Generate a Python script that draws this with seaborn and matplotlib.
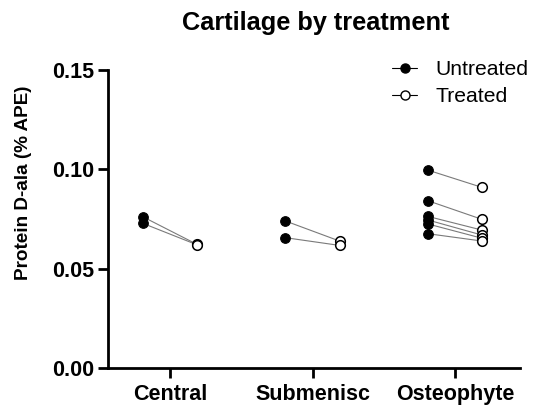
import numpy as np
import pandas as pd
import matplotlib
matplotlib.use("Agg")
import matplotlib.pyplot as plt
from matplotlib.lines import Line2D
import seaborn as sns

sns.set_theme(style="ticks")
plt.rcParams['font.family'] = ['Liberation Sans', 'DejaVu Sans']
plt.rcParams.update({"text.color": "black", "axes.labelcolor": "black",
                     "xtick.color": "black", "ytick.color": "black",
                     "axes.edgecolor": "black"})

categories = ["Central", "Submenisc", "Osteophyte"]
untreated_central = [0.0761, 0.0728]
treated_central = [0.0622, 0.0620]
untreated_submenisc = [0.0740, 0.0656]
treated_submenisc = [0.0639, 0.0617]
untreated_osteophyte = [0.0996, 0.0842, 0.0763, 0.0745, 0.0725, 0.0676]
treated_osteophyte = [0.0909, 0.0748, 0.0694, 0.0669, 0.0653, 0.0639]
groups = ["Untreated", "Treated"]
yticks = [0.00, 0.05, 0.10, 0.15]

untreated = [untreated_central, untreated_submenisc, untreated_osteophyte]
treated = [treated_central, treated_submenisc, treated_osteophyte]

offset = {"Untreated": -0.19, "Treated": 0.19}
rows = []
pid = 0
for ci, cat in enumerate(categories):
    for u, t in zip(untreated[ci], treated[ci]):
        rows.append(dict(cat=cat, group="Untreated", value=u, pair=pid,
                         x=ci + offset["Untreated"]))
        rows.append(dict(cat=cat, group="Treated", value=t, pair=pid,
                         x=ci + offset["Treated"]))
        pid += 1
df = pd.DataFrame(rows)

fig = plt.figure(figsize=(5.35, 4.07), dpi=100)
ax = fig.add_axes([108/535, 1 - 368/407, (520-108)/535, (368-70)/407])

sns.lineplot(data=df, x="x", y="value", units="pair", estimator=None,
             color="#7a7a7a", lw=0.8, ax=ax, legend=False, zorder=1)

du = df[df.group == "Untreated"]
dt = df[df.group == "Treated"]
sns.scatterplot(data=du, x="x", y="value", color="black", s=48,
                edgecolor="black", linewidth=0.8, ax=ax, legend=False, zorder=3)
sns.scatterplot(data=dt, x="x", y="value", facecolor="white", s=48,
                edgecolor="black", linewidth=1.1, ax=ax, legend=False, zorder=3)

ax.set_xlim(-0.435, 2.456)
ax.set_ylim(0, 0.15)
ax.set_xticks(range(len(categories)))
ax.set_xticklabels(categories)
ax.set_yticks(yticks)
ax.set_yticklabels([f"{v:.2f}" for v in yticks])
for lab in ax.get_xticklabels() + ax.get_yticklabels():
    lab.set_fontweight("bold")
    lab.set_fontsize(15.5)
ax.tick_params(axis="both", width=2, length=7.2, color="black", pad=3)
ax.tick_params(axis="x", pad=4)
for s in ["left", "bottom"]:
    ax.spines[s].set_linewidth(2)
    ax.spines[s].set_color("black")
sns.despine(ax=ax)
ax.set_xlabel("")
ax.set_ylabel("Protein D-ala (% APE)", fontsize=13.6, fontweight="bold")
ax.yaxis.set_label_coords(-0.184, 0.622)

fig.text(316/535, 1 - 23/407, "Cartilage by treatment", ha="center", va="center",
         fontsize=18.3, fontweight="bold")

handles = [
    Line2D([], [], color="black", lw=0.8, marker="o", markersize=6.5,
           markerfacecolor="black", markeredgecolor="black"),
    Line2D([], [], color="black", lw=0.8, marker="o", markersize=6.5,
           markerfacecolor="white", markeredgecolor="black"),
]
leg = fig.legend(handles, groups, loc="upper left",
                 bbox_to_anchor=(392/535, 1 - 60/407), frameon=False,
                 fontsize=15.2, handlelength=1.2, handletextpad=0.85,
                 labelspacing=0.4, borderpad=0, borderaxespad=0)

fig.savefig("out.png", dpi=100)
